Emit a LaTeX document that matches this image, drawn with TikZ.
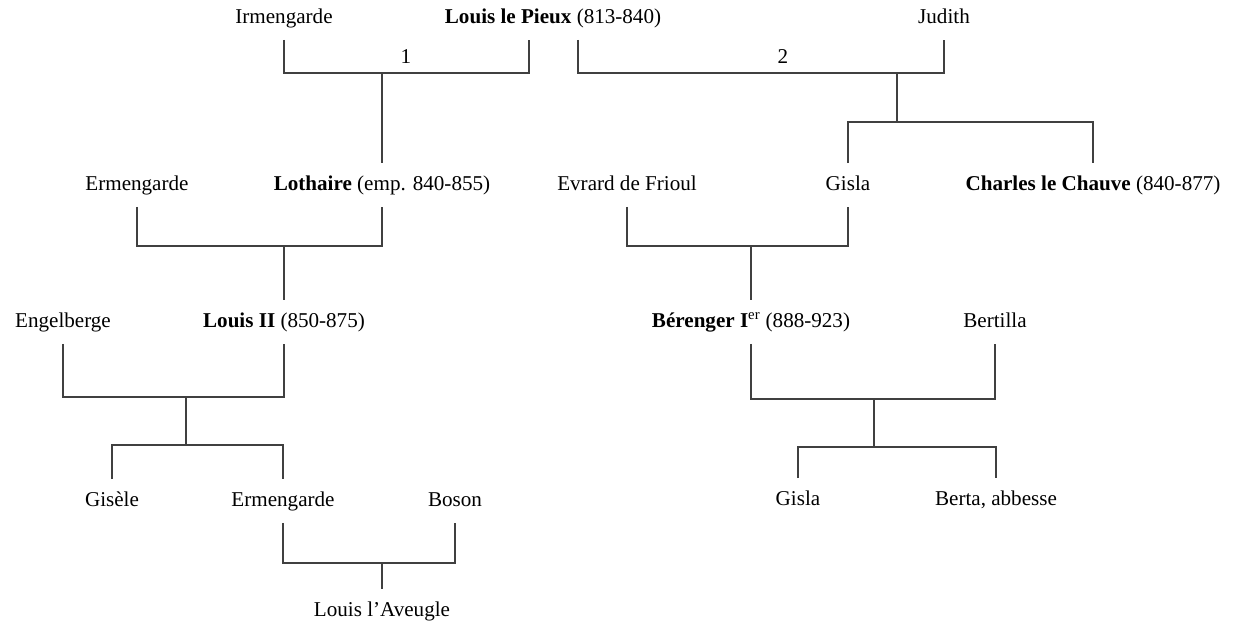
\documentclass[tikz,border=0pt]{standalone}
\usepackage{fontspec}
\setmainfont{Liberation Serif}
\usetikzlibrary{calc}

\begin{document}
\begin{tikzpicture}[x=0.025cm, y=-0.025cm,
    person/.style={inner xsep=0pt, inner ysep=8.5pt, text height=10.5pt, text depth=3.3pt, font=\fontsize{15}{18}\selectfont},
    rank/.style={inner sep=0pt, font=\fontsize{15}{18}\selectfont},
    link/.style={draw=black!75, line width=0.8pt}
]
    \useasboundingbox (0,0) rectangle (1237,625);

    % first row
    \node[person] (irm) at (284,18) {Irmengarde};
    \node[person] (pieux) at (553,18) {\textbf{Louis le Pieux} (813-840)};
    \node[person] (judith) at (944,18) {Judith};
    \node[rank] (lab1) at (406,57) {1};
    \node[rank] (lab2) at (783,57) {2};

    % second row
    \node[person] (erm1) at (137,185) {Ermengarde};
    \node[person] (lothaire) at (382,185) {\textbf{Lothaire} (emp. 840-855)};
    \node[person] (evrard) at (627,185) {Evrard de Frioul};
    \node[person] (gisla1) at (848,185) {Gisla};
    \node[person] (charles) at (1093,185) {\textbf{Charles le Chauve} (840-877)};

    % third row
    \node[person] (engel) at (63,322) {Engelberge};
    \node[person] (louis2) at (284,322) {\textbf{Louis II} (850-875)};
    \node[person] (berenger) at (751,322) {\textbf{Bérenger I}\textsuperscript{er} (888-923)};
    \node[person] (bertilla) at (995,322) {Bertilla};

    % fourth row
    \node[person] (gisele) at (112,501) {Gisèle};
    \node[person] (erm2) at (283,501) {Ermengarde};
    \node[person] (boson) at (455,501) {Boson};
    \node[person] (gisla2) at (798,500) {Gisla};
    \node[person] (berta) at (996,500) {Berta, abbesse};
    \node[person] (aveugle) at (382,611) {Louis l’Aveugle};

    % marriages and children
    \coordinate (m1) at (382,73);
    \coordinate (m2) at (897,73);
    \coordinate (c1) at (897,122);
    \coordinate (m3) at (284,246);
    \coordinate (m4) at (751,246);
    \coordinate (m5) at (186,397);
    \coordinate (c2) at (186,445);
    \coordinate (m6) at (874,399);
    \coordinate (c3) at (874,447);
    \coordinate (m7) at (382,563);

    \draw[link] (irm.south) |- (m1) -| ($(pieux.south)+(-24,0)$);
    \draw[link] (m1) -- (lothaire.north);
    \draw[link] ($(pieux.south)+(25,0)$) |- (m2) -| (judith.south);
    \draw[link] (m2) -- (c1);
    \draw[link] (gisla1.north) |- (c1) -| (charles.north);

    \draw[link] (erm1.south) |- (m3) -| (lothaire.south);
    \draw[link] (m3) -- (louis2.north);
    \draw[link] (evrard.south) |- (m4) -| (gisla1.south);
    \draw[link] (m4) -- (berenger.north);

    \draw[link] (engel.south) |- (m5) -| (louis2.south);
    \draw[link] (m5) -- (c2);
    \draw[link] (gisele.north) |- (c2) -| (erm2.north);
    \draw[link] (berenger.south) |- (m6) -| (bertilla.south);
    \draw[link] (m6) -- (c3);
    \draw[link] (gisla2.north) |- (c3) -| (berta.north);

    \draw[link] (erm2.south) |- (m7) -| (boson.south);
    \draw[link] (m7) -- (aveugle.north);
\end{tikzpicture}
\end{document}
